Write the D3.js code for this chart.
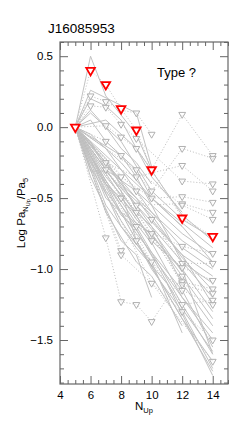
<!DOCTYPE html>
<meta charset="utf-8">
<head>
  <style>
    body { margin: 0; background: #fff; }
    text { font-family: "Liberation Sans", Arial, sans-serif; fill: #000; }
  </style>
  <script src="https://cdn.jsdelivr.net/npm/d3@7"></script>
</head>
<body>
<script>
  // target source, normalised to Pa5
  const target = [[5,0],[6,0.40],[7,0.30],[8,0.13],[9,-0.02],[10,-0.30],[12,-0.64],[14,-0.77]];

  // comparison sources drawn solid (no markers)
  const solidSeries = [
    [[5,0],[6,0.5],[7,0.22],[9,-0.05],[10,-0.3]],
    [[5,0],[6,0.26],[9,0.1],[10,-0.28]],
    [[5,0],[6,0.2],[7,0.15],[8,0.05],[10,-0.35],[12,-0.6]],
    [[5,0],[7,0.05],[9,-0.15],[12,-0.62],[14,-0.8]],
    [[5,0],[6,0.1],[8,-0.1],[10,-0.45],[12,-0.65],[14,-0.78]],
    [[5,0],[6,-0.05],[8,-0.25],[10,-0.5],[14,-0.85]],
    [[5,0],[6,-0.31],[7,-0.31],[9,-0.55],[12,-0.9],[14,-1.05]],
    [[5,0],[7,-0.2],[9,-0.4],[12,-0.7],[14,-0.95]],
    [[5,0],[7,-0.35],[9,-0.6],[10,-0.7],[14,-1.2]],
    [[5,0],[6,-0.15],[8,-0.45],[10,-0.8],[12,-1.0],[14,-1.3]],
    [[5,0],[7,-0.45],[9,-0.75],[12,-1.15],[14,-1.55]],
    [[5,0],[6,-0.2],[8,-0.55],[10,-0.9],[12,-1.2],[14,-1.45]],
    [[5,0],[7,-0.5],[8,-0.6],[10,-1.0],[12,-1.3],[14,-1.7]],
    [[5,0],[6,-0.25],[9,-0.7],[12,-1.25],[14,-1.6]],
    [[5,0],[8,-0.7],[10,-0.95],[12,-1.45]],
    [[5,0],[7,-0.55],[9,-0.85],[11,-1.1],[14,-1.75]],
    [[5,0],[8,-0.4],[9,-0.5],[12,-0.8],[14,-0.95]],
    [[5,0],[7,-0.15],[8,-0.3],[10,-0.6],[12,-0.85],[14,-1.0]],
    [[5,0],[6,-0.1],[7,-0.3],[9,-0.45],[12,-0.75],[14,-0.9]],
    [[5,0],[8,-0.6],[10,-0.75],[12,-1.05],[14,-1.35]],
    [[5,0],[7,-0.6],[9,-0.95],[10,-1.05],[12,-1.4]],
    [[5,0],[9,-0.65],[12,-1.0],[14,-1.6]],
    [[5,0],[6,0.05],[7,-0.1],[9,-0.3],[10,-0.5],[12,-0.7]],
    [[5,0],[8,-0.2],[9,-0.35],[10,-0.55],[12,-0.95],[14,-1.1]],
    [[5,0],[7,-0.4],[8,-0.5],[9,-0.62],[12,-1.2],[14,-1.5]],
    [[5,0],[6,-0.35],[8,-0.8],[9,-0.9],[10,-1.2]],
    [[5,0],[9,-0.5],[10,-0.65],[12,-0.9],[14,-1.25]],
    [[5,0],[7,-0.25],[10,-0.7],[12,-1.1],[14,-1.4]],
    [[5,0],[8,-0.45],[9,-0.8],[12,-1.35],[14,-1.65]],
    [[5,0],[6,0.12],[7,0.0],[8,-0.15],[9,-0.25],[10,-0.4]],
    [[5,0],[6,-0.18],[7,-0.38],[8,-0.52],[9,-0.68],[10,-0.82]],
    [[5,0],[7,-0.42],[8,-0.62],[9,-0.72],[12,-1.28],[14,-1.58]],
    [[5,0],[6,-0.12],[8,-0.38],[9,-0.58],[10,-0.72],[12,-1.02]],
    [[5,0],[7,-0.22],[8,-0.42],[10,-0.62],[12,-0.92],[14,-1.15]],
    [[5,0],[6,-0.28],[8,-0.66],[10,-0.98],[14,-1.72]]
  ];

  // comparison sources drawn dotted with markers
  const dottedSeries = [
    [[5,0],[6,0.22],[7,0.18],[8,0.12],[9,0.10],[10,-0.05]],
    [[5,0],[6,0.15],[7,0.14],[8,0.02],[9,-0.08],[12,-0.38],[14,-0.40]],
    [[5,0],[7,0.01],[8,-0.07],[9,-0.15],[10,-0.30],[12,0.09],[14,-0.20]],
    [[5,0],[7,-0.1],[8,-0.2],[10,-0.45],[12,-0.15],[14,-0.22]],
    [[5,0],[7,-0.25],[9,-0.35],[12,-0.27],[14,-0.45]],
    [[5,0],[8,-0.35],[10,-0.5],[12,-0.49],[14,-0.53]],
    [[5,0],[7,-0.3],[9,-0.55],[12,-0.54],[14,-0.60]],
    [[5,0],[7,-0.78],[8,-1.23],[9,-1.25],[10,-1.37],[12,-1.05]],
    [[5,0],[8,-0.87],[9,-0.7],[12,-0.84],[14,-0.89]],
    [[5,0],[9,-0.45],[10,-0.65],[12,-0.96],[14,-0.96]],
    [[5,0],[8,-0.5],[10,-0.8],[12,-0.99],[14,-1.08]],
    [[5,0],[9,-0.6],[12,-1.09],[14,-1.14]],
    [[5,0],[10,-0.75],[12,-1.11],[14,-1.17]],
    [[5,0],[9,-0.8],[12,-1.25],[14,-1.22]],
    [[5,0],[10,-0.95],[12,-1.15],[14,-1.25]],
    [[5,0],[8,-0.9],[12,-1.3],[14,-1.5]],
    [[5,0],[10,-1.1],[14,-1.65]],
    [[5,0],[9,-0.3],[12,-0.55],[14,-0.65]]
  ];

  const xTicks = [4,6,8,10,12,14];
  const yTicks = [0.5,0.0,-0.5,-1.0,-1.5];

  const W = 240, H = 428;
  const L = 60, R = 228, T = 42, B = 384;
  const axisColor = "#666";

  const x = d3.scaleLinear().domain([4,15]).range([L,R]);
  const y = d3.scaleLinear().domain([-1.81,0.6]).range([B,T]);

  const svg = d3.select("body").append("svg")
    .attr("width", W)
    .attr("height", H);

  const line = d3.line().x(d => x(d[0])).y(d => y(d[1]));

  svg.append("defs").append("clipPath").attr("id","clip")
    .append("rect").attr("x",L).attr("y",T).attr("width",R-L).attr("height",B-T);

  const plot = svg.append("g").attr("clip-path","url(#clip)");

  plot.selectAll(".solid").data(solidSeries).enter().append("path")
    .attr("class","solid")
    .attr("d", line)
    .attr("fill","none")
    .attr("stroke","#c2c2c2")
    .attr("stroke-width",1);

  plot.selectAll(".dotted").data(dottedSeries).enter().append("path")
    .attr("class","dotted")
    .attr("d", line)
    .attr("fill","none")
    .attr("stroke","#bdbdbd")
    .attr("stroke-width",1)
    .attr("stroke-dasharray","1,2");

  plot.append("path")
    .attr("d", line(target))
    .attr("fill","none")
    .attr("stroke","#c4c4c4")
    .attr("stroke-width",1)
    .attr("stroke-dasharray","1,2");

  const tri = d3.symbol().type(d3.symbolTriangle);

  plot.selectAll(".gmark").data(dottedSeries.flat()).enter().append("path")
    .attr("class","gmark")
    .attr("d", tri.size(20)())
    .attr("transform", d => `translate(${x(d[0])},${y(d[1])}) rotate(180)`)
    .attr("fill","white")
    .attr("fill-opacity",0.6)
    .attr("stroke","#b0b0b0")
    .attr("stroke-width",1);

  plot.selectAll(".rmark").data(target).enter().append("path")
    .attr("class","rmark")
    .attr("d", d3.symbol().type(d3.symbolTriangle).size(32)())
    .attr("transform", d => `translate(${x(d[0])},${y(d[1])}) rotate(180)`)
    .attr("fill","white")
    .attr("stroke","#ff0000")
    .attr("stroke-width",1.8);

  // frame
  svg.append("rect")
    .attr("x",L).attr("y",T).attr("width",R-L).attr("height",B-T)
    .attr("fill","none").attr("stroke",axisColor).attr("stroke-width",1.2);

  const xMinor = d3.range(4,15.01,0.5).filter(v => !xTicks.includes(v));
  const yMinor = d3.range(-1.8,0.61,0.1).map(v => Math.round(v*10)/10).filter(v => !yTicks.includes(v));

  function styleAxis(g) {
    g.select(".domain").remove();
    g.selectAll("line").attr("stroke",axisColor).attr("stroke-width",1);
    g.selectAll("text").attr("font-size","11.5px").attr("fill","#000");
  }

  svg.append("g").attr("transform",`translate(0,${B})`)
    .call(d3.axisBottom(x).tickValues(xTicks).tickSize(-8).tickPadding(7).tickFormat(d3.format("d")))
    .call(styleAxis);
  svg.append("g").attr("transform",`translate(0,${B})`)
    .call(d3.axisBottom(x).tickValues(xMinor).tickSize(-4).tickFormat(""))
    .call(styleAxis);
  svg.append("g").attr("transform",`translate(0,${T})`)
    .call(d3.axisTop(x).tickValues(xTicks).tickSize(-8).tickFormat(""))
    .call(styleAxis);
  svg.append("g").attr("transform",`translate(0,${T})`)
    .call(d3.axisTop(x).tickValues(xMinor).tickSize(-4).tickFormat(""))
    .call(styleAxis);

  svg.append("g").attr("transform",`translate(${L},0)`)
    .call(d3.axisLeft(y).tickValues(yTicks).tickSize(-8).tickPadding(7).tickFormat(d3.format(".1f")))
    .call(styleAxis);
  svg.append("g").attr("transform",`translate(${L},0)`)
    .call(d3.axisLeft(y).tickValues(yMinor).tickSize(-4).tickFormat(""))
    .call(styleAxis);
  svg.append("g").attr("transform",`translate(${R},0)`)
    .call(d3.axisRight(y).tickValues(yTicks).tickSize(-8).tickFormat(""))
    .call(styleAxis);
  svg.append("g").attr("transform",`translate(${R},0)`)
    .call(d3.axisRight(y).tickValues(yMinor).tickSize(-4).tickFormat(""))
    .call(styleAxis);

  // title and annotation
  svg.append("text").attr("x",48).attr("y",33).attr("font-size","13.5px").text("J16085953");
  svg.append("text").attr("x",157).attr("y",77).attr("font-size","13px").text("Type ?");

  // x label
  const xl = svg.append("text").attr("x",144).attr("y",410).attr("text-anchor","middle").attr("font-size","11.5px");
  xl.append("tspan").text("N");
  xl.append("tspan").attr("font-size","7.5px").attr("dy",3).text("Up");

  // y label
  const yl = svg.append("text")
    .attr("transform",`translate(25,${(T+B)/2}) rotate(-90)`)
    .attr("text-anchor","middle").attr("font-size","11.5px");
  yl.append("tspan").text("Log Pa");
  yl.append("tspan").attr("font-size","7.5px").attr("dy",3).text("N");
  yl.append("tspan").attr("font-size","5.5px").attr("dy",1.5).text("Up");
  yl.append("tspan").attr("dy",-4.5).text("/Pa");
  yl.append("tspan").attr("font-size","7.5px").attr("dy",3).text("5");
</script>
</body>
</html>
